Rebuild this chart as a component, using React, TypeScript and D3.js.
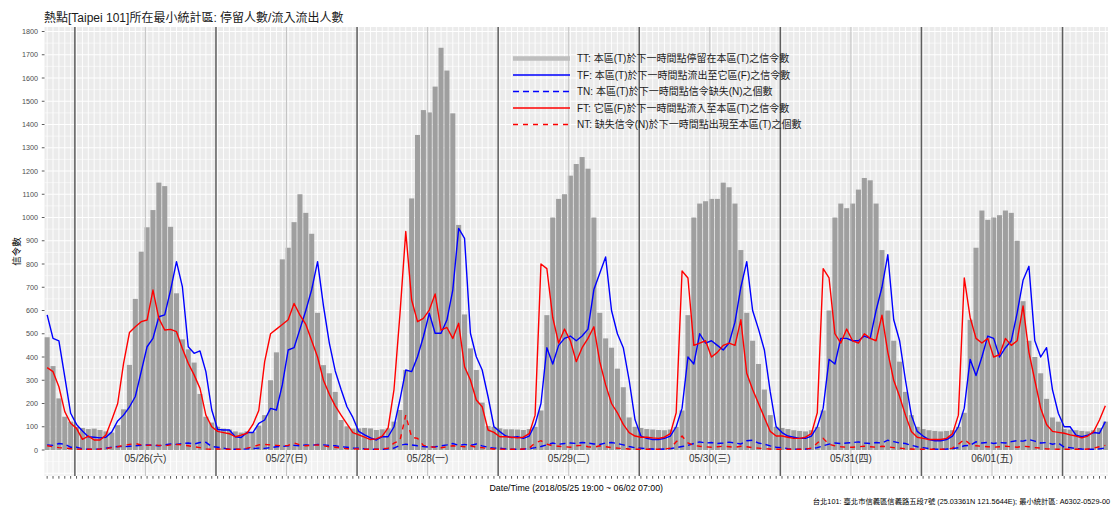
import React from "react";
import * as d3 from "d3";

// hourly series from 2018/05/25 19:00 to 2018/06/02 07:00 (181 points)
const START = new Date(2018, 4, 25, 19, 0, 0);

const TT = [
  485, 361, 222, 143, 122,
  100, 95, 90, 92, 86, 80, 75, 107, 175, 366, 650, 853, 958, 1032, 1150, 1135, 960, 674, 476, 433, 376, 241, 143, 118,
  100, 92, 88, 80, 75, 80, 77, 105, 150, 300, 420, 820, 870, 980, 1100, 1020, 930, 590, 365, 330, 250, 129, 102, 92,
  93, 95, 93, 86, 89, 93, 122, 172, 344, 1082, 1355, 1462, 1452, 1563, 1730, 1632, 1448, 968, 583, 437, 344, 204, 103, 100,
  93, 89, 89, 88, 86, 90, 100, 170, 580, 1000, 1080, 1100, 1180, 1230, 1260, 1210, 1000, 590, 480, 440, 350, 270, 140, 100,
  95, 90, 88, 86, 85, 88, 100, 170, 580, 1000, 1060, 1070, 1080, 1080, 1150, 1130, 1060, 860, 590, 470, 370, 260, 150, 100,
  95, 90, 85, 82, 80, 85, 100, 170, 600, 1000, 1060, 1040, 1060, 1120, 1170, 1160, 1060, 860, 600, 470, 380, 250, 150, 100,
  90, 85, 82, 80, 82, 85, 100, 160, 560, 870, 1030, 990, 1000, 1010, 1030, 1020, 900, 640, 470, 400, 330, 220, 140, 122,
  90, 88, 85, 82, 80, 85, 95, 122,
];

const TF = [
  581, 480, 469, 315, 158,
  110, 82, 57, 55, 52, 55, 78, 125, 150, 185, 230, 337, 444, 480, 573, 581, 688, 810, 703, 444, 416, 426, 337, 172,
  88, 86, 86, 57, 54, 75, 75, 115, 129, 179, 172, 280, 430, 440, 520, 600, 690, 810, 620, 460, 340, 260, 186, 140,
  80, 65, 52, 43, 57, 57, 100, 215, 344, 337, 401, 487, 588, 502, 502, 559, 688, 953, 910, 502, 401, 344, 229, 100,
  79, 60, 54, 57, 50, 60, 110, 200, 440, 370, 450, 480, 490, 470, 490, 520, 690, 760, 830, 600, 500, 440, 300, 130,
  60, 50, 45, 45, 50, 60, 100, 180, 400, 370, 500, 460, 470, 450, 430, 460, 550, 700, 810, 600, 520, 430, 250, 100,
  75, 60, 55, 50, 50, 60, 100, 180, 390, 370, 480, 480, 470, 470, 490, 480, 600, 700, 840, 560, 470, 300, 150, 80,
  60, 45, 40, 40, 45, 60, 100, 180, 390, 320, 400, 490, 480, 400, 440, 470, 590, 730, 790, 470, 400, 440, 260, 158,
  100, 100, 64, 57, 64, 75, 72, 122,
];

const TN = [
  22, 20, 28, 25, 12,
  12, 5, 3, 3, 5, 8, 12, 15, 14, 16, 18, 20, 22, 20, 18, 22, 26, 24, 28, 30, 26, 32, 33, 15,
  12, 8, 4, 3, 3, 5, 6, 8, 7, 10, 14, 15, 18, 20, 18, 22, 20, 24, 22, 20, 18, 14, 12, 8,
  8, 5, 3, 3, 3, 5, 8, 20, 25, 22, 18, 15, 12, 14, 18, 22, 28, 20, 24, 20, 26, 18, 12, 8,
  8, 5, 3, 3, 4, 6, 10, 15, 22, 30, 25, 28, 30, 28, 32, 30, 26, 24, 30, 32, 28, 22, 15, 10,
  8, 5, 4, 3, 4, 6, 10, 15, 20, 28, 35, 30, 32, 28, 30, 34, 30, 26, 40, 42, 30, 25, 18, 12,
  10, 6, 4, 3, 4, 6, 10, 18, 25, 30, 28, 30, 32, 35, 30, 28, 32, 30, 42, 36, 30, 28, 20, 14,
  10, 6, 4, 3, 4, 6, 10, 18, 20, 35, 30, 33, 28, 32, 30, 36, 40, 38, 45, 38, 30, 32, 25, 30,
  12, 10, 6, 4, 3, 3, 5, 8,
];

const FT = [
  354, 337, 272, 165, 115,
  93, 46, 60, 43, 43, 64, 130, 200, 373, 505, 530, 552, 559, 688, 566, 516, 519, 509, 437, 373, 323, 265, 150, 100,
  80, 75, 70, 57, 64, 72, 110, 170, 380, 500, 520, 540, 560, 630, 580, 540, 470, 400, 300, 240, 190, 150, 112, 75,
  65, 55, 45, 48, 60, 95, 260, 580, 940, 645, 552, 566, 602, 671, 516, 527, 480, 545, 358, 301, 215, 186, 86, 76,
  57, 57, 55, 52, 55, 70, 150, 800, 780, 570, 460, 520, 470, 380, 440, 480, 530, 380, 280, 200, 160, 110, 75, 60,
  55, 55, 52, 50, 55, 70, 160, 770, 740, 450, 460, 470, 400, 420, 450, 460, 450, 560, 330, 260, 200, 140, 80, 60,
  60, 55, 50, 50, 55, 70, 160, 780, 740, 500, 460, 520, 470, 460, 500, 480, 470, 580, 420, 300, 230, 150, 80, 55,
  50, 45, 45, 45, 50, 70, 150, 740, 570, 480, 460, 480, 400, 410, 480, 450, 470, 620, 420, 300, 180, 110, 80, 76,
  72, 65, 60, 52, 60, 79, 129, 190,
];

const NT = [
  18, 14, 10, 8, 6,
  4, 3, 3, 3, 4, 6, 10, 14, 20, 24, 28, 22, 20, 22, 20, 18, 22, 24, 22, 18, 14, 10, 5, 3,
  5, 3, 3, 3, 3, 8, 14, 22, 24, 22, 20, 18, 20, 30, 22, 18, 20, 22, 18, 14, 12, 8, 6, 5,
  4, 3, 3, 3, 4, 8, 30, 40, 150, 55, 50, 20, 14, 12, 10, 14, 18, 16, 14, 18, 12, 10, 6, 4,
  4, 3, 3, 3, 4, 8, 30, 40, 25, 18, 16, 14, 12, 18, 20, 14, 12, 18, 14, 10, 8, 6, 4, 3,
  3, 3, 3, 3, 4, 8, 35, 60, 30, 20, 16, 14, 12, 14, 16, 14, 12, 16, 14, 10, 8, 5, 4, 3,
  3, 3, 3, 3, 4, 8, 30, 50, 25, 18, 14, 12, 12, 14, 16, 14, 12, 16, 14, 10, 8, 5, 4, 3,
  3, 3, 3, 3, 4, 8, 25, 45, 25, 18, 16, 14, 12, 14, 16, 14, 12, 16, 14, 10, 8, 5, 4, 3,
  3, 3, 3, 3, 4, 8, 14, 20,
];

const dayLabels = ["05/26(六)", "05/27(日)", "05/28(一)", "05/29(二)", "05/30(三)", "05/31(四)", "06/01(五)"];
const yTickValues = d3.range(0, 1801, 100);

const TITLE = "熱點[Taipei 101]所在最小統計區: 停留人數/流入流出人數";
const X_TITLE = "Date/Time (2018/05/25 19:00 ~ 06/02 07:00)";
const Y_TITLE = "信令數";
const CAPTION = "台北101: 臺北市信義區信義路五段7號 (25.03361N 121.5644E); 最小統計區: A6302-0529-00";

const legendLabels = [
  "TT: 本區(T)於下一時間點停留在本區(T)之信令數",
  "TF: 本區(T)於下一時間點流出至它區(F)之信令數",
  "TN: 本區(T)於下一時間點信令缺失(N)之個數",
  "FT: 它區(F)於下一時間點流入至本區(T)之信令數",
  "NT: 缺失信令(N)於下一時間點出現至本區(T)之個數",
];

const FONT = "'Liberation Sans', Arial, 'Noto Sans CJK TC', sans-serif";

export default function App() {
  const W = 1114;
  const H = 507;
  const P = { left: 44.5, right: 1108, top: 27, bottom: 476 };

  const times = TT.map((_, i) => d3.timeHour.offset(START, i));
  const x = d3
    .scaleTime()
    .domain([d3.timeMinute.offset(times[0], -27), d3.timeMinute.offset(times[times.length - 1], 27)])
    .range([P.left, P.right]);
  const y = d3.scaleLinear().domain([0, 1800]).range([450, 31.5]);
  const yBottomVal = y.invert(P.bottom);
  const yTopVal = y.invert(P.top);

  const step = x(times[1]) - x(times[0]);
  const bw = step * 0.86;

  const midnights = d3.timeDay.range(new Date(2018, 4, 26), new Date(2018, 5, 2, 1));
  const noons = midnights.slice(0, 7).map((d) => d3.timeHour.offset(d, 12));
  const lineShift = (d: Date) => x(d3.timeMinute.offset(d, -17));

  const line = d3
    .line<number>()
    .x((_, i) => x(times[i]))
    .y((v) => y(v));

  const majorH = d3.range(-100, 1801, 100).filter((v) => v >= yBottomVal && v <= yTopVal);
  const minorH = d3.range(-50, 1801, 100).filter((v) => v >= yBottomVal && v <= yTopVal);

  const legendStyles = [
    { stroke: "#bebebe", width: 4.5, dash: undefined },
    { stroke: "#0000ff", width: 1.5, dash: undefined },
    { stroke: "#0000ff", width: 1.5, dash: "6,4" },
    { stroke: "#ff0000", width: 1.5, dash: undefined },
    { stroke: "#ff0000", width: 1.5, dash: "5,5" },
  ];

  return (
    <svg
      width={W}
      height={H}
      style={{ position: "absolute", left: 0, top: 0, background: "#ffffff" }}
      fontFamily={FONT}
    >
      <rect x={0} y={0} width={W} height={H} fill="#ffffff" />
      {/* panel */}
      <rect x={P.left} y={P.top} width={P.right - P.left} height={P.bottom - P.top} fill="#ebebeb" />
      <rect x={P.left} y={y(0)} width={P.right - P.left} height={P.bottom - y(0)} fill="#ffffff" opacity={0.35} />
      {minorH.map((v) => (
        <line key={"mh" + v} x1={P.left} x2={P.right} y1={y(v)} y2={y(v)} stroke="#ffffff" strokeWidth={0.55} />
      ))}
      {majorH.map((v) => (
        <line key={"Mh" + v} x1={P.left} x2={P.right} y1={y(v)} y2={y(v)} stroke="#ffffff" strokeWidth={1.1} />
      ))}
      {times.map((t, i) => (
        <line key={"v" + i} x1={x(t)} x2={x(t)} y1={P.top} y2={P.bottom} stroke="#ffffff" strokeWidth={0.9} />
      ))}

      {/* bars */}
      {TT.map((v, i) => (
        <rect key={"b" + i} x={x(times[i]) - bw / 2} y={y(v)} width={bw} height={y(0) - y(v)} fill="#9f9f9f" />
      ))}

      {/* day lines */}
      {noons.map((d, i) => (
        <line key={"n" + i} x1={lineShift(d)} x2={lineShift(d)} y1={P.top} y2={P.bottom} stroke="#c4c4c4" strokeWidth={1} />
      ))}
      {midnights.map((d, i) => (
        <line key={"m" + i} x1={lineShift(d)} x2={lineShift(d)} y1={P.top} y2={P.bottom} stroke="#5e5e5e" strokeWidth={1.5} />
      ))}

      {/* series lines */}
      <path d={line(TF) || ""} fill="none" stroke="#0000ff" strokeWidth={1.4} strokeLinejoin="round" />
      <path d={line(TN) || ""} fill="none" stroke="#0000ff" strokeWidth={1.4} strokeDasharray="6,4" />
      <path d={line(FT) || ""} fill="none" stroke="#ff0000" strokeWidth={1.4} strokeLinejoin="round" />
      <path d={line(NT) || ""} fill="none" stroke="#ff0000" strokeWidth={1.4} strokeDasharray="5,5" />

      {/* day labels */}
      {noons.map((d, i) => (
        <text key={"dl" + i} x={lineShift(d)} y={458.5} fontSize={10} fill="#333333" textAnchor="middle" dominantBaseline="central">
          {dayLabels[i]}
        </text>
      ))}

      {/* legend */}
      {legendLabels.map((lab, i) => {
        const cy = 58.5 + i * 16.5;
        const s = legendStyles[i];
        return (
          <g key={"lg" + i}>
            <line x1={513} x2={570} y1={cy} y2={cy} stroke={s.stroke} strokeWidth={s.width} strokeDasharray={s.dash} />
            <text x={577} y={cy} fontSize={10} fill="#1a1a1a" dominantBaseline="central">
              {lab}
            </text>
          </g>
        );
      })}

      {/* y axis */}
      {yTickValues.map((v) => (
        <g key={"yt" + v}>
          <line x1={41.8} x2={P.left} y1={y(v)} y2={y(v)} stroke="#333333" strokeWidth={0.8} />
          <text x={38} y={y(v)} fontSize={7.2} fill="#4d4d4d" textAnchor="end" dominantBaseline="central">
            {v}
          </text>
        </g>
      ))}
      {/* x axis ticks */}
      {times.map((t, i) => (
        <line key={"xt" + i} x1={x(t)} x2={x(t)} y1={P.bottom} y2={P.bottom + 2.7} stroke="#333333" strokeWidth={0.8} />
      ))}

      {/* titles */}
      <text x={44} y={22} fontSize={12} fill="#1a1a1a">
        {TITLE}
      </text>
      <text
        x={16}
        y={(P.top + P.bottom) / 2}
        fontSize={9.5}
        fill="#000000"
        textAnchor="middle"
        dominantBaseline="central"
        transform={`rotate(-90, 16, ${(P.top + P.bottom) / 2})`}
      >
        {Y_TITLE}
      </text>
      <text x={(P.left + P.right) / 2} y={491} fontSize={8.8} fill="#000000" textAnchor="middle">
        {X_TITLE}
      </text>
      <text x={1110} y={504} fontSize={7.3} fill="#000000" textAnchor="end">
        {CAPTION}
      </text>
    </svg>
  );
}
